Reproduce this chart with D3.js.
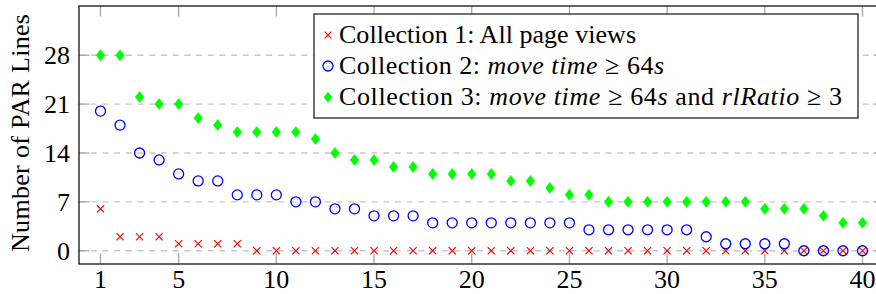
<!DOCTYPE html>
<html>
<head>
<meta charset="utf-8">
<script src="https://cdn.jsdelivr.net/npm/d3@7"></script>
<style>
  html, body { margin: 0; padding: 0; background: #fff; }
  svg { display: block; }
</style>
</head>
<body>
<svg id="chart" width="876" height="294"></svg>
<script>
// ---- data ----
const xValues = d3.range(1, 41);
const collection1 = [6,2,2,2,1,1,1,1,0,0, 0,0,0,0,0,0,0,0,0,0, 0,0,0,0,0,0,0,0,0,0, 0,0,0,0,0,0,0,0,0,0];
const collection2 = [20,18,14,13,11,10,10,8,8,8, 7,7,6,6,5,5,5,4,4,4, 4,4,4,4,4,3,3,3,3,3, 3,2,1,1,1,1,0,0,0,0];
const collection3 = [28,28,22,21,21,19,18,17,17,17, 17,16,14,13,13,12,12,11,11,11, 11,10,10,9,8,8,7,7,7,7, 7,7,7,7,6,6,6,5,4,4];
const xTicks = [1,5,10,15,20,25,30,35,40];
const yTicks = [0,7,14,21,28];
const yLabel = "Number of PAR Lines";
const legendLabels = [
  [{t:"Collection 1: All page views"}],
  [{t:"Collection 2: "},{t:"move time",i:true},{t:" ≥ 64"},{t:"s",i:true}],
  [{t:"Collection 3: "},{t:"move time",i:true},{t:" ≥ 64"},{t:"s",i:true},{t:" and "},{t:"rlRatio",i:true},{t:" ≥ 3"}]
];

const FONT = "'Liberation Serif'";

// ---- layout ----
const svg = d3.select("#chart");
const L = 79, R = 884, T = 6, B = 264;
const x = d3.scaleLinear().domain([-0.1, 41.1]).range([L, R]);
const y = d3.scaleLinear().domain([-1.9, 35.05]).range([B, T]);

// grid
svg.append("g").selectAll("line").data(yTicks).join("line")
  .attr("x1", L).attr("x2", R)
  .attr("y1", d => y(d)).attr("y2", d => y(d))
  .attr("stroke", "#c8c8c8").attr("stroke-width", 1.3)
  .attr("stroke-dasharray", "6,5.7");

// ticks (inside, mirrored)
const tickCol = "#a8a8a8", tickLen = 10.5;
const tk = svg.append("g").attr("stroke", tickCol).attr("stroke-width", 1.3);
xTicks.forEach(v => {
  tk.append("line").attr("x1", x(v)).attr("x2", x(v)).attr("y1", B).attr("y2", B - tickLen);
  tk.append("line").attr("x1", x(v)).attr("x2", x(v)).attr("y1", T).attr("y2", T + tickLen);
});
yTicks.forEach(v => {
  tk.append("line").attr("x1", L).attr("x2", L + tickLen).attr("y1", y(v)).attr("y2", y(v));
  tk.append("line").attr("x1", R).attr("x2", R - tickLen).attr("y1", y(v)).attr("y2", y(v));
});

// axis frame
svg.append("rect").attr("x", L).attr("y", T).attr("width", R - L).attr("height", B - T)
  .attr("fill", "none").attr("stroke", "#111").attr("stroke-width", 1.3);

// tick labels
const fs = 26;
svg.append("g").selectAll("text").data(xTicks).join("text")
  .style("font-family", FONT)
  .attr("x", d => x(d)).attr("y", 288).attr("text-anchor", "middle")
  .attr("font-size", fs).attr("fill", "#000").text(d => d);
svg.append("g").selectAll("text").data(yTicks).join("text")
  .style("font-family", FONT)
  .attr("x", 70).attr("y", d => y(d)).attr("dy", "0.34em").attr("text-anchor", "end")
  .attr("font-size", fs).attr("fill", "#000").text(d => d);

// y label
svg.append("text").style("font-family", FONT)
  .attr("transform", `translate(29,${(T + B) / 2 - 2}) rotate(-90)`)
  .attr("text-anchor", "middle").attr("font-size", 26).attr("fill", "#000")
  .attr("textLength", 238).attr("lengthAdjust", "spacing")
  .text(yLabel);

// markers
function cross(g, cx, cy, s) {
  g.append("path").attr("d", `M${cx - s},${cy - s}L${cx + s},${cy + s}M${cx - s},${cy + s}L${cx + s},${cy - s}`)
    .attr("stroke", "#ff0000").attr("stroke-width", 1.2).attr("fill", "none");
}
function circ(g, cx, cy, r) {
  g.append("circle").attr("cx", cx).attr("cy", cy).attr("r", r)
    .attr("stroke", "#0000ff").attr("stroke-width", 1.3).attr("fill", "none");
}
function diam(g, cx, cy, w, h) {
  g.append("path").attr("d", `M${cx},${cy - h}L${cx + w},${cy}L${cx},${cy + h}L${cx - w},${cy}Z`)
    .attr("fill", "#00ff00").attr("stroke", "#00ff00").attr("stroke-width", 0.6);
}
const g1 = svg.append("g"), g2 = svg.append("g"), g3 = svg.append("g");
xValues.forEach((xv, i) => {
  cross(g1, x(xv), y(collection1[i]), 3.6);
  circ(g2, x(xv), y(collection2[i]), 5);
  diam(g3, x(xv), y(collection3[i]), 4.3, 5.5);
});

// legend
const lg = svg.append("g");
lg.append("rect").attr("x", 314).attr("y", 14).attr("width", 544).attr("height", 104)
  .attr("fill", "#fff").attr("stroke", "#111").attr("stroke-width", 1.2);
const rowsY = [35, 66, 97.2];
const rowWidths = [297, 325, 503];
cross(lg, 328, rowsY[0], 3.3);
circ(lg, 328, rowsY[1], 5);
diam(lg, 328, rowsY[2], 4, 5);
legendLabels.forEach((parts, r) => {
  const t = lg.append("text").style("font-family", FONT)
    .attr("x", 339).attr("y", rowsY[r] + 7.8).attr("font-size", 26).attr("fill", "#000")
    .attr("textLength", rowWidths[r]).attr("lengthAdjust", "spacing");
  parts.forEach(p => {
    const s = t.append("tspan").text(p.t);
    if (p.i) s.attr("font-style", "italic");
  });
});
</script>
</body>
</html>
